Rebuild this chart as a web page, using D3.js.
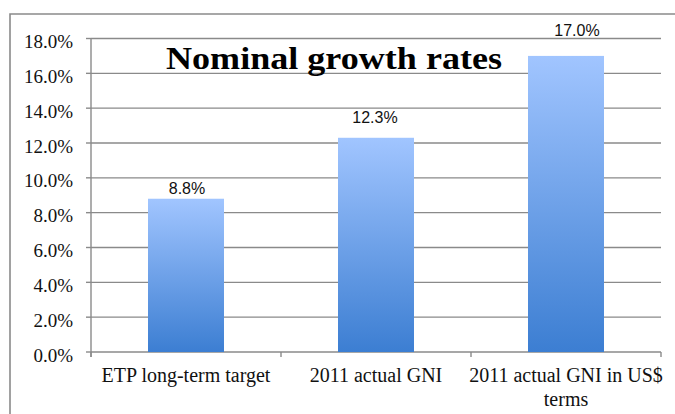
<!DOCTYPE html>
<html>
<head>
<meta charset="utf-8">
<script src="https://cdn.jsdelivr.net/npm/d3@7/dist/d3.min.js"></script>
<style>
  html, body { margin: 0; padding: 0; background: #fff; }
  svg { display: block; }
</style>
</head>
<body>
<svg id="chart" width="675" height="414"></svg>
<script>
// Chart data
const categories = ["ETP long-term target", "2011 actual GNI", "2011 actual GNI in US$ terms"];
const values = [8.8, 12.3, 17.0];          // nominal growth, %
const yTicks = [0, 2, 4, 6, 8, 10, 12, 14, 16, 18];
const chartTitle = "Nominal growth rates";

// Hand-placed nudges for the value labels (px)
const labelLift = [4.5, 15, 19.5];
const labelShift = [1, -1, 11];

const W = 675, H = 414;
const plot = { left: 91, right: 661, top: 38.5, bottom: 352 };
const gridColor = "#8a8a8a";
const serif = "'Liberation Serif', 'Times New Roman', serif";
const sans = "'Liberation Sans', Arial, sans-serif";

const svg = d3.select("#chart");

// Gradient fill for the bars
const defs = svg.append("defs");
const grad = defs.append("linearGradient")
  .attr("id", "barFill").attr("x1", 0).attr("y1", 0).attr("x2", 0).attr("y2", 1);
grad.append("stop").attr("offset", "0%").attr("stop-color", "#a1c5ff");
grad.append("stop").attr("offset", "100%").attr("stop-color", "#3c7ed2");

// Outer frame (runs off the right and bottom edges)
svg.append("path")
  .attr("d", `M10,${H + 5} L10,14 L${W + 5},14`)
  .attr("fill", "none").attr("stroke", "#8a8a8a").attr("stroke-width", 1.6);

const x = d3.scaleBand()
  .domain(categories)
  .range([plot.left, plot.right])
  .paddingInner(0.6)
  .paddingOuter(0.3);

const y = d3.scaleLinear()
  .domain([0, d3.max(yTicks)])
  .range([plot.bottom, plot.top]);

// Gridlines
svg.append("g").selectAll("line")
  .data(yTicks.filter(t => t > 0))
  .join("line")
  .attr("x1", plot.left).attr("x2", plot.right)
  .attr("y1", d => y(d)).attr("y2", d => y(d))
  .attr("stroke", gridColor).attr("stroke-width", 1.4);

// Y axis line and ticks
svg.append("line")
  .attr("x1", plot.left).attr("x2", plot.left)
  .attr("y1", y(d3.max(yTicks))).attr("y2", plot.bottom + 5)
  .attr("stroke", gridColor).attr("stroke-width", 1.4);
svg.append("g").selectAll("line")
  .data(yTicks)
  .join("line")
  .attr("x1", plot.left - 5).attr("x2", plot.left)
  .attr("y1", d => y(d)).attr("y2", d => y(d))
  .attr("stroke", gridColor).attr("stroke-width", 1.4);

// Y tick labels
const pct = d3.format(".1%");
svg.append("g").selectAll("text")
  .data(yTicks)
  .join("text")
  .attr("x", 73)
  .attr("y", d => y(d) + 9.5)
  .attr("text-anchor", "end")
  .attr("font-family", serif)
  .attr("font-size", 19)
  .attr("fill", "#111")
  .text(d => pct(d / 100));

// X axis line with category boundary ticks
svg.append("line")
  .attr("x1", plot.left).attr("x2", plot.right)
  .attr("y1", plot.bottom).attr("y2", plot.bottom)
  .attr("stroke", gridColor).attr("stroke-width", 1.4);
const bounds = d3.range(categories.length + 1).map(i => plot.left + i * x.step());
svg.append("g").selectAll("line")
  .data(bounds)
  .join("line")
  .attr("x1", d => d).attr("x2", d => d)
  .attr("y1", plot.bottom).attr("y2", plot.bottom + 5)
  .attr("stroke", gridColor).attr("stroke-width", 1.4);

// Bars
svg.append("g").selectAll("rect")
  .data(values)
  .join("rect")
  .attr("x", (d, i) => x(categories[i]))
  .attr("width", x.bandwidth())
  .attr("y", d => y(d))
  .attr("height", d => plot.bottom - y(d))
  .attr("fill", "url(#barFill)");

// Value labels
svg.append("g").selectAll("text")
  .data(values)
  .join("text")
  .attr("x", (d, i) => x(categories[i]) + x.bandwidth() / 2 + labelShift[i])
  .attr("y", (d, i) => y(d) - labelLift[i])
  .attr("text-anchor", "middle")
  .attr("font-family", sans)
  .attr("font-size", 16)
  .attr("fill", "#111")
  .text(d => pct(d / 100));

// Category labels, wrapped to the category width
const catG = svg.append("g");
categories.forEach((c, i) => {
  const cx = x(c) + x.bandwidth() / 2;
  const t = catG.append("text")
    .attr("text-anchor", "middle")
    .attr("font-family", serif)
    .attr("font-size", 20)
    .attr("fill", "#111");
  const words = c.split(" ");
  let line = [], lineNo = 0;
  let tspan = t.append("tspan").attr("x", cx).attr("y", 381.5);
  words.forEach(w => {
    line.push(w);
    tspan.text(line.join(" "));
    if (tspan.node().getComputedTextLength() > x.step() + 8 && line.length > 1) {
      line.pop();
      tspan.text(line.join(" "));
      line = [w];
      lineNo++;
      tspan = t.append("tspan").attr("x", cx).attr("y", 381.5 + lineNo * 24.5).text(w);
    }
  });
});

// Chart title inside the plot
svg.append("text")
  .attr("x", 334)
  .attr("y", 69)
  .attr("text-anchor", "middle")
  .attr("font-family", serif)
  .attr("font-weight", "bold")
  .attr("font-size", 32)
  .attr("textLength", 336)
  .attr("lengthAdjust", "spacingAndGlyphs")
  .attr("fill", "#000")
  .text(chartTitle);
</script>
</body>
</html>
